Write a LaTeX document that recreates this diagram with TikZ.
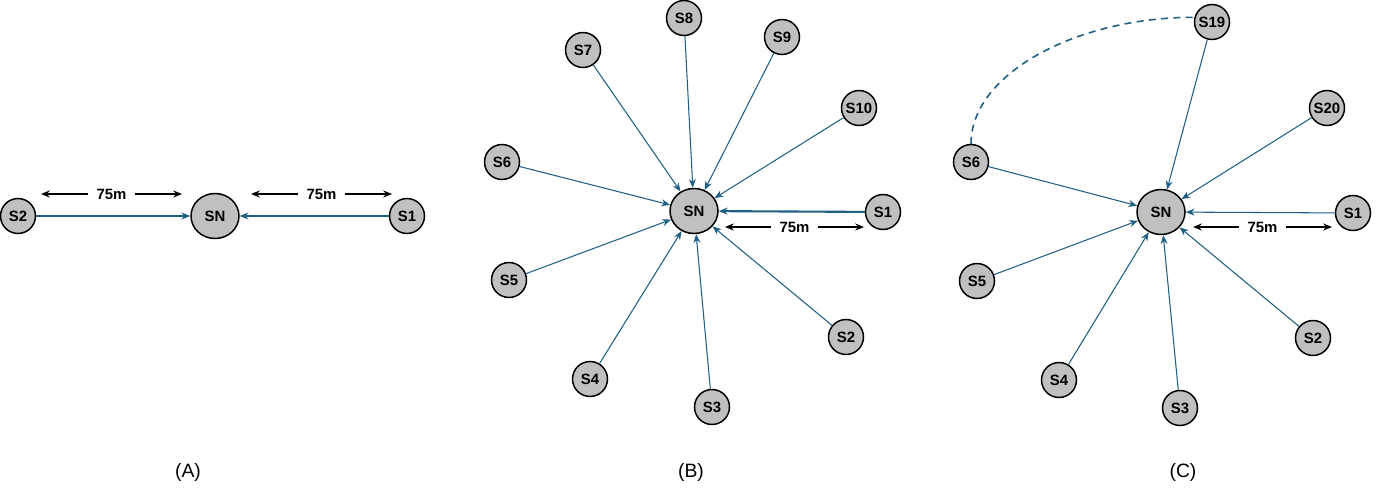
\documentclass[tikz,border=0pt]{standalone}
\usepackage{fontspec}
\setmainfont{Liberation Sans}
\usetikzlibrary{arrows.meta,positioning,shapes.geometric}
\definecolor{linkblue}{RGB}{31,96,132}
\definecolor{nodegray}{RGB}{192,192,192}

\begin{document}
\begin{tikzpicture}[x=0.02cm,y=-0.02cm,>={Stealth[length=5pt,width=4pt]},
  sensor/.style={circle,draw,line width=0.85pt,fill=nodegray,minimum size=0.7cm,inner sep=0pt,font=\fontsize{8.5}{10}\selectfont\bfseries},
  sink/.style={ellipse,draw,line width=0.85pt,fill=nodegray,minimum width=0.96cm,minimum height=0.9cm,inner sep=0pt,font=\fontsize{8.5}{10}\selectfont\bfseries},
  link/.style={->,linkblue,line width=0.6pt},
  dist/.style={<->,black,line width=0.7pt},
  distlabel/.style={fill=white,inner xsep=5pt,inner ysep=1pt,font=\fontsize{8.5}{10}\selectfont\bfseries},
  caption/.style={font=\fontsize{11}{13}\selectfont}]
  \useasboundingbox (0,0) rectangle (1379,500);

  % (A)
  \node[sink]   (snA) at (215,216) {SN};
  \node[sensor] (a1)  at (407,216) {S1};
  \node[sensor] (a2)  at (18,216)  {S2};
  \path[link] (a2) edge (snA)
              (a1) edge (snA);
  \coordinate (dA1) at (41,194);  \coordinate (dA2) at (182,194);
  \coordinate (dA3) at (251,194); \coordinate (dA4) at (392,194);
  \draw[dist] (dA1) -- node[distlabel] {75m} (dA2);
  \draw[dist] (dA3) -- node[distlabel] {75m} (dA4);
  \node[caption] (capA) at (188,472) {(A)};

  % (B)
  \node[sink]   (snB) at (694,211) {SN};
  \node[sensor] (b1)  at (883,212) {S1};
  \node[sensor] (b2)  at (846,337) {S2};
  \node[sensor] (b3)  at (712,407) {S3};
  \node[sensor] (b4)  at (590,379) {S4};
  \node[sensor] (b5)  at (509,280) {S5};
  \node[sensor] (b6)  at (502,162) {S6};
  \node[sensor] (b7)  at (583,50)  {S7};
  \node[sensor] (b8)  at (684,18)  {S8};
  \node[sensor] (b9)  at (782,37)  {S9};
  \node[sensor] (b10) at (859,108) {S10};
  \path[link] (b2) edge (snB)
              (b3) edge (snB)
              (b4) edge (snB)
              (b5) edge (snB)
              (b6) edge (snB)
              (b7) edge (snB)
              (b8) edge (snB)
              (b9) edge (snB)
              (b10) edge (snB);
  \draw[link,line width=1.2pt] (b1) -- (snB);
  \coordinate (dB1) at (725,227); \coordinate (dB2) at (864,227);
  \draw[dist] (dB1) -- node[distlabel] {75m} (dB2);
  \node[caption] (capB) at (691,472) {(B)};

  % (C)
  \node[sink]   (snC) at (1161,212) {SN};
  \node[sensor] (c1)  at (1353,213) {S1};
  \node[sensor] (c2)  at (1313,338) {S2};
  \node[sensor] (c3)  at (1180,408) {S3};
  \node[sensor] (c4)  at (1059,380) {S4};
  \node[sensor] (c5)  at (977,281)  {S5};
  \node[sensor] (c6)  at (971,162)  {S6};
  \node[sensor] (c19) at (1212,22)  {S19};
  \node[sensor] (c20) at (1327,108) {S20};
  \path[link] (c1) edge (snC)
              (c2) edge (snC)
              (c3) edge (snC)
              (c4) edge (snC)
              (c5) edge (snC)
              (c6) edge (snC)
              (c19) edge (snC)
              (c20) edge (snC);
  \draw[linkblue,line width=0.9pt,dash pattern=on 4pt off 3pt]
    (c6.north) .. controls +(0,-70) and +(-118,0) .. (c19.165);
  \coordinate (dC1) at (1193,227); \coordinate (dC2) at (1332,227);
  \draw[dist] (dC1) -- node[distlabel] {75m} (dC2);
  \node[caption] (capC) at (1183,472) {(C)};
\end{tikzpicture}
\end{document}
